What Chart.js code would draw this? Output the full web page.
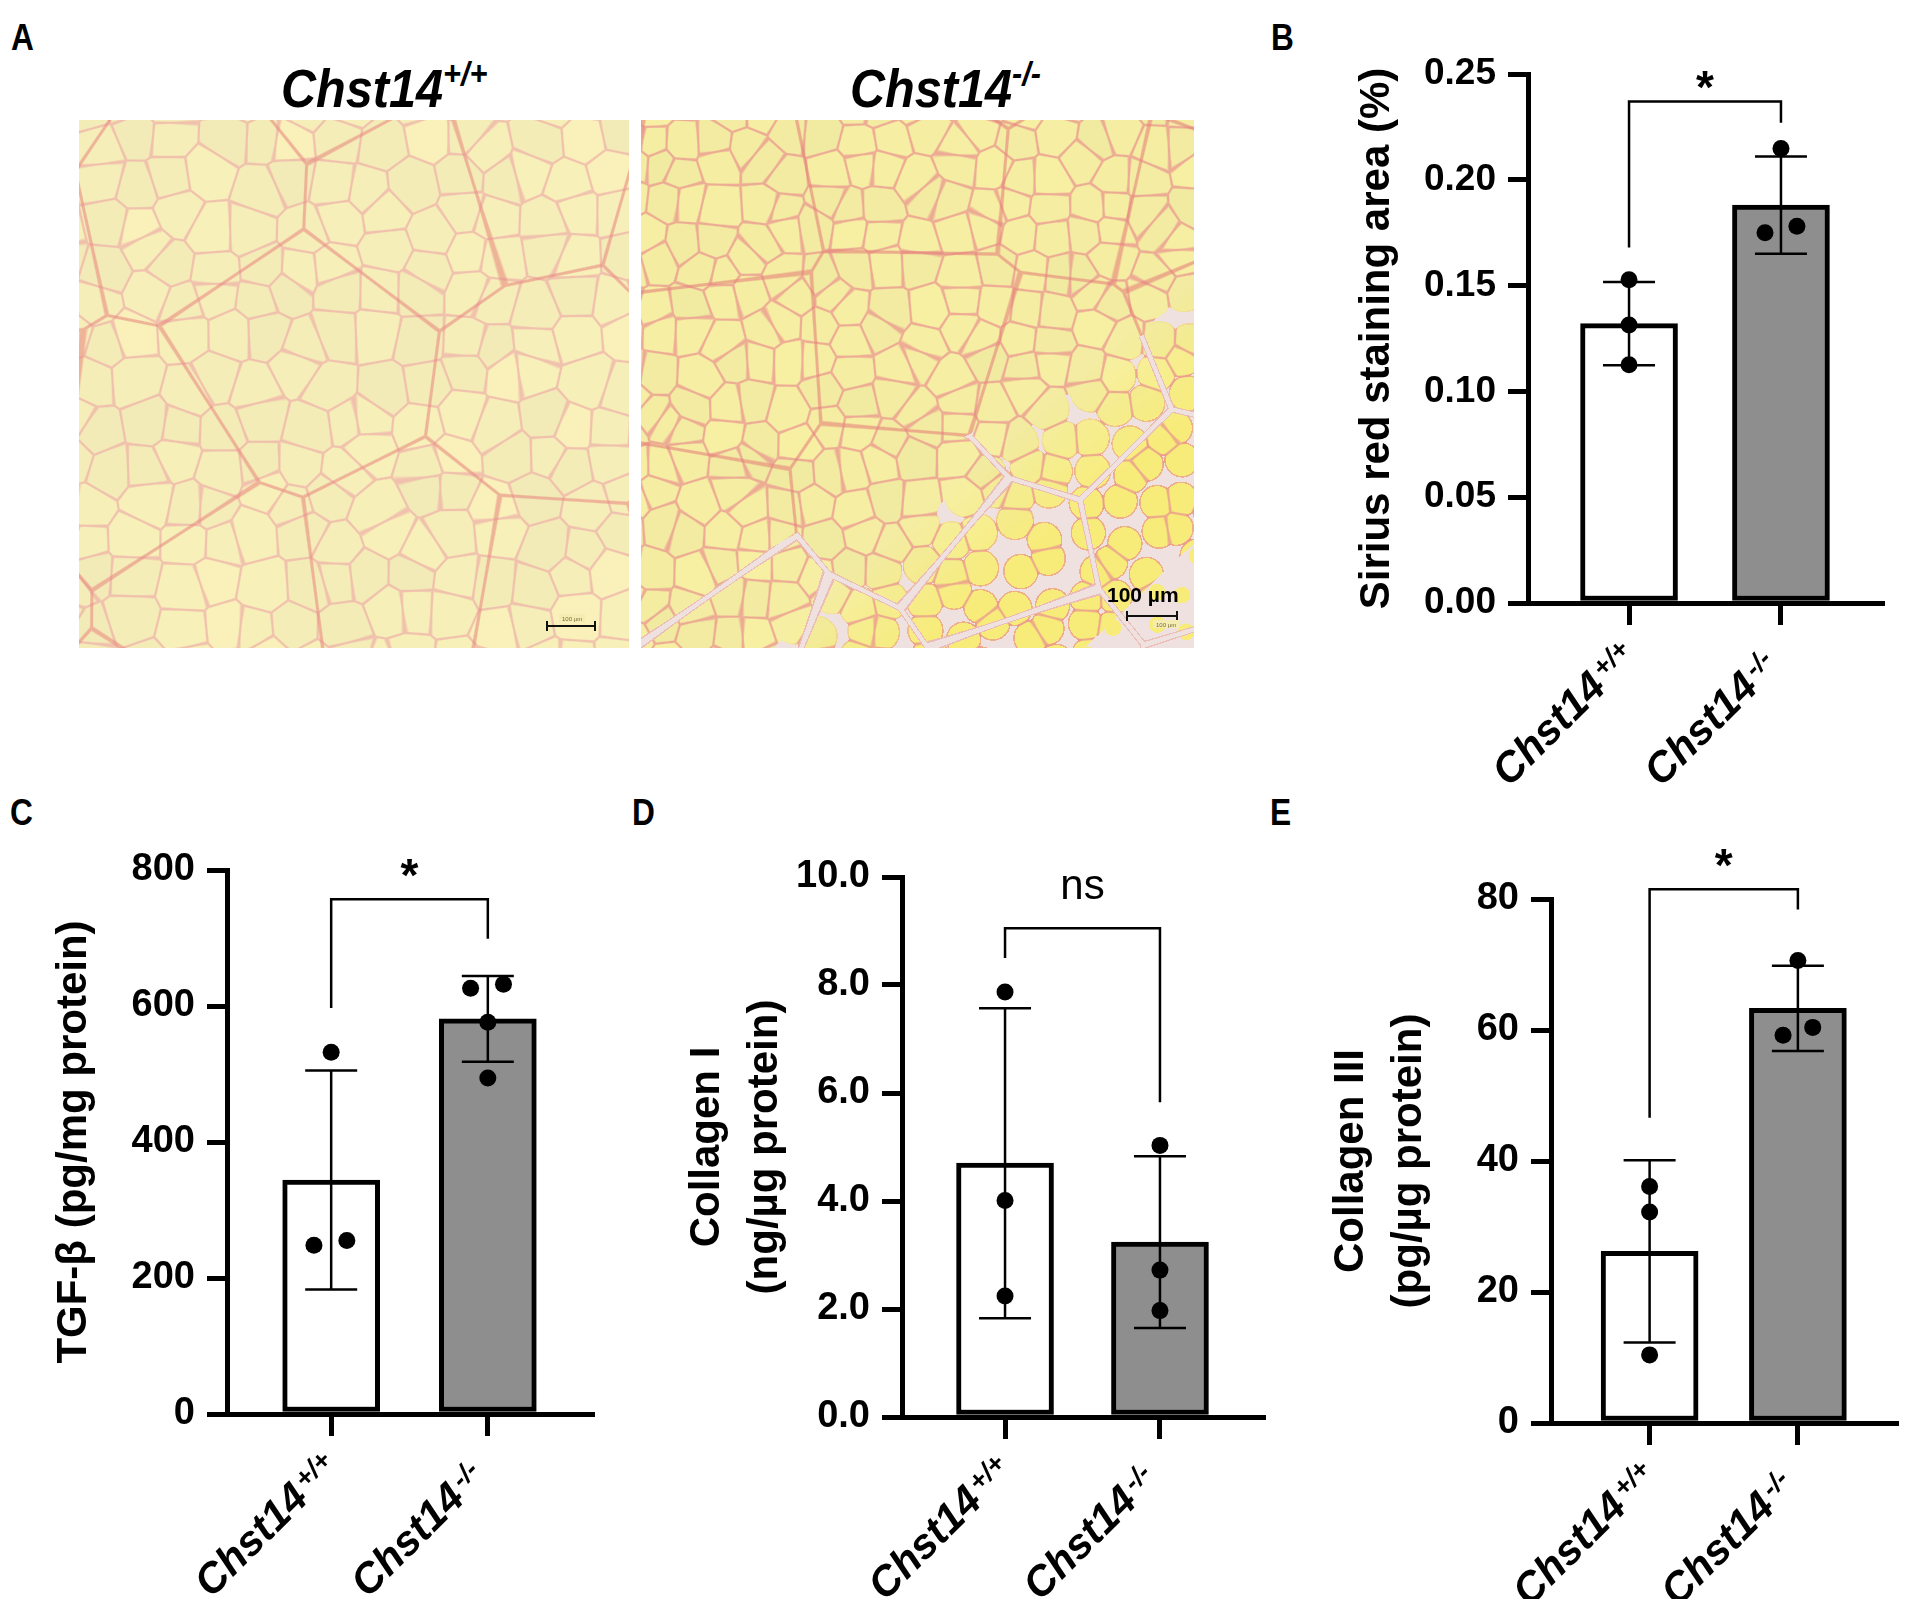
<!DOCTYPE html>
<html>
<head>
<meta charset="utf-8">
<script src="https://cdn.jsdelivr.net/npm/chart.js@4.4.0/dist/chart.umd.min.js"></script>
<style>
  html, body { margin: 0; padding: 0; background: #fff; }
  body { width: 1905px; height: 1599px; position: relative; overflow: hidden;
         font-family: "Liberation Sans", Arial, sans-serif; color: #000; }
  .abs { position: absolute; }
  .letter { font-weight: bold; font-size: 36px; line-height: 36px; transform: scaleX(0.88); transform-origin: left top; }
  .gtitle { font-weight: bold; font-style: italic; font-size: 54px; line-height: 54px; white-space: nowrap;
            transform: scaleX(0.9); transform-origin: left top; }
  .gtitle span { font-size: 34px; position: relative; top: -22px; }
  .scale { font-weight: bold; font-size: 21px; line-height: 21px; white-space: nowrap; }
</style>
</head>
<body>

<div class="abs letter" style="left:11px;top:20px">A</div>
<div class="abs letter" style="left:1271px;top:20px">B</div>
<div class="abs letter" style="left:10px;top:795px">C</div>
<div class="abs letter" style="left:632px;top:795px">D</div>
<div class="abs letter" style="left:1270px;top:795px">E</div>

<div class="abs gtitle" style="left:281px;top:61px">Chst14<span>+/+</span></div>
<div class="abs gtitle" style="left:850px;top:61px">Chst14<span>-/-</span></div>

<canvas id="tissueWT" class="abs" width="550" height="528" style="left:79px;top:120px"></canvas>
<canvas id="tissueKO" class="abs" width="553" height="528" style="left:641px;top:120px"></canvas>
<div class="abs scale" style="left:1107px;top:584px">100 µm</div>

<canvas id="chartB" class="abs" width="553" height="800" style="left:1352px;top:0px"></canvas>
<canvas id="chartC" class="abs" width="591" height="799" style="left:49px;top:800px"></canvas>
<canvas id="chartD" class="abs" width="612" height="799" style="left:678px;top:800px"></canvas>
<canvas id="chartE" class="abs" width="583" height="799" style="left:1322px;top:800px"></canvas>

<script>
// Figure: Chst14+/+ vs Chst14-/- muscle fibrosis read-outs

const groupBase = 'Chst14';
const groupSup = ['+/+', '-/-'];

// B - Sirius red staining area (%)
const siriusTicks = [0, 0.05, 0.10, 0.15, 0.20, 0.25];
const siriusMean = [0.132, 0.188];
const siriusSD = [0.0197, 0.0230];
const siriusWT = [0.1528, 0.1314, 0.1126];
const siriusKO = [0.2148, 0.1750, 0.1780];
const siriusWTPos = [0, 0, 0];
const siriusKOPos = [0, -0.105, 0.105];
const siriusBracket = [0.168, 0.237, 0.227];

// C - TGF-beta (pg/mg protein)
const tgfTicks = [0, 200, 400, 600, 800];
const tgfMean = [344, 581];
const tgfSD = [161, 63];
const tgfWT = [532, 248, 255];
const tgfKO = [626, 632, 576, 494];
const tgfWTPos = [0, -0.11, 0.1];
const tgfKOPos = [-0.11, 0.1, 0, 0];
const tgfBracket = [597, 757, 699];

// D - Collagen I (ng/ug protein)
const col1Ticks = [0, 2, 4, 6, 8, 10];
const col1Mean = [4.70, 3.24];
const col1SD = [2.87, 1.59];
const col1WT = [7.87, 4.01, 2.24];
const col1KO = [5.03, 2.72, 1.97];
const col1WTPos = [0, 0, 0];
const col1KOPos = [0, 0, 0];
const col1Bracket = [8.5, 9.05, 5.83];

// E - Collagen III (pg/ug protein)
const col3Ticks = [0, 20, 40, 60, 80];
const col3Mean = [26.2, 63.3];
const col3SD = [13.9, 6.5];
const col3WT = [36.1, 32.2, 10.4];
const col3KO = [70.6, 59.2, 60.4];
const col3WTPos = [0, 0, 0];
const col3KOPos = [0, -0.1, 0.1];
const col3Bracket = [46.6, 81.5, 78.4];

const FONT = '"Liberation Sans", Arial, sans-serif';

// ---------- panel A: stained sections (decorative texture) ----------
function hash2(i, j, k) {
  const h = Math.sin(i * 127.1 + j * 311.7 + k * 74.7) * 43758.5453;
  return h - Math.floor(h);
}
let nd1 = 0, nd2 = 0, nid = 0;
function nearest(x, y, s, k) {
  const gx = Math.floor(x / s), gy = Math.floor(y / s);
  nd1 = 1e9; nd2 = 1e9; nid = 0;
  for (let a = -1; a <= 1; a++) {
    for (let b = -1; b <= 1; b++) {
      const cx = gx + a, cy = gy + b;
      const px = (cx + 0.15 + 0.7 * hash2(cx, cy, k)) * s;
      const py = (cy + 0.15 + 0.7 * hash2(cy, cx, k + 3)) * s;
      const d = Math.hypot(x - px, y - py);
      if (d < nd1) { nd2 = nd1; nd1 = d; nid = cx * 7919 + cy; }
      else if (d < nd2) nd2 = d;
    }
  }
}
function mix(c1, c2, t) {
  return [c1[0] + (c2[0] - c1[0]) * t, c1[1] + (c2[1] - c1[1]) * t, c1[2] + (c2[2] - c1[2]) * t];
}
function edgeT(e, w) {
  return e < w ? 1 : (e < w + 1.2 ? 1 - (e - w) / 1.2 : 0);
}
function drawTissue(id, o) {
  const cv = document.getElementById(id);
  const ctx = cv.getContext('2d');
  const w = cv.width, h = cv.height;
  const img = ctx.createImageData(w, h);
  for (let y = 0; y < h; y++) {
    for (let x = 0; x < w; x++) {
      nearest(x, y, o.big, o.seed + 10);
      const eBig = (nd2 - nd1) / 2;
      nearest(x, y, o.cell, o.seed);
      const e = (nd2 - nd1) / 2;
      const d1 = nd1;
      const v = (hash2(nid, 1, o.seed) - 0.5) * 6;
      let c = [o.base[0] + v, o.base[1] + v, o.base[2] + v * 0.5];
      let loose = 0;
      if (o.loose) loose = Math.min(1, Math.max(0, ((x / w) * 0.9 + (y / h) - 1.2) / 0.25));
      if (loose > 0) c = mix(c, o.bright, loose);
      c = mix(c, o.edge, edgeT(e, 0.5) * 0.75);
      c = mix(c, o.bigEdge, edgeT(eBig, 0.9) * 0.6);
      if (o.loose) {
        const r = o.cell * (0.66 - 0.12 * loose);
        if (loose > 0.05 && d1 > r) c = o.gap;
        else if (loose > 0.05 && d1 > r - 1.5) c = mix(c, o.edge, 0.7 * loose);
        if (x / w + y / h > 1.8 && d1 > o.cell * 0.25) c = o.gap;
        const band = (x / w) * 0.6 + (y / h);
        if (band > 0.95 && eBig < 3) c = mix(o.gap, o.edge, eBig > 2 ? 0.5 : 0);
      }
      const p = (y * w + x) * 4;
      img.data[p] = c[0]; img.data[p + 1] = c[1]; img.data[p + 2] = c[2]; img.data[p + 3] = 255;
    }
  }
  ctx.putImageData(img, 0, 0);
  // scale bar
  ctx.strokeStyle = '#111';
  ctx.lineWidth = 2;
  const [sx0, sx1, sy] = o.bar;
  ctx.beginPath();
  ctx.moveTo(sx0, sy); ctx.lineTo(sx1, sy);
  ctx.moveTo(sx0, sy - 5); ctx.lineTo(sx0, sy + 5);
  ctx.moveTo(sx1, sy - 5); ctx.lineTo(sx1, sy + 5);
  ctx.stroke();
  ctx.fillStyle = '#f4ecb0';
  ctx.fillRect(o.tag[0], o.tag[1], 26, 8);
  ctx.fillStyle = '#7a6a40';
  ctx.font = '6px ' + FONT;
  ctx.fillText('100 µm', o.tag[0] + 3, o.tag[1] + 7);
}

drawTissue('tissueWT', {
  seed: 1, cell: 40, big: 190,
  base: [246, 238, 184], edge: [238, 178, 168], bigEdge: [232, 140, 130],
  bar: [468, 516, 506], tag: [480, 494]
});
drawTissue('tissueKO', {
  seed: 5, cell: 33, big: 160, loose: true,
  base: [244, 237, 162], edge: [234, 150, 142], bigEdge: [230, 130, 122],
  bright: [247, 236, 122], gap: [238, 225, 223],
  bar: [486, 536, 496], tag: [512, 500]
});

// ---------- panels B-E ----------
function statsPlugin(p) {
  return {
    id: 'stats',
    afterDatasetsDraw(chart) {
      const ctx = chart.ctx, xs = chart.scales.x, ys = chart.scales.y;
      ctx.save();
      ctx.strokeStyle = '#000';
      ctx.lineWidth = 2.5;
      // mean +/- SD
      p.mean.forEach((m, i) => {
        const x = xs.getPixelForValue(i);
        const yt = ys.getPixelForValue(m + p.sd[i]);
        const yb = ys.getPixelForValue(m - p.sd[i]);
        ctx.beginPath();
        ctx.moveTo(x, yt); ctx.lineTo(x, yb);
        ctx.moveTo(x - 26, yt); ctx.lineTo(x + 26, yt);
        ctx.moveTo(x - 26, yb); ctx.lineTo(x + 26, yb);
        ctx.stroke();
      });
      // significance bracket
      const x0 = xs.getPixelForValue(0), x1 = xs.getPixelForValue(1);
      const yl = ys.getPixelForValue(p.bracket[0]);
      const yt = ys.getPixelForValue(p.bracket[1]);
      const yr = ys.getPixelForValue(p.bracket[2]);
      ctx.beginPath();
      ctx.moveTo(x0, yl); ctx.lineTo(x0, yt); ctx.lineTo(x1, yt); ctx.lineTo(x1, yr);
      ctx.stroke();
      ctx.fillStyle = '#000';
      ctx.textAlign = 'center';
      ctx.textBaseline = 'alphabetic';
      if (p.sig === '*') {
        ctx.font = 'bold 46px ' + FONT;
        ctx.fillText('*', (x0 + x1) / 2, yt - p.sigGap + 26);
      } else {
        ctx.font = '42px ' + FONT;
        ctx.fillText(p.sig, (x0 + x1) / 2, yt - p.sigGap + 11);
      }
      // rotated group labels
      const yb = chart.chartArea.bottom;
      [0, 1].forEach(i => {
        const x = xs.getPixelForValue(i);
        ctx.save();
        ctx.translate(x - 21, yb + 86);
        ctx.rotate(-Math.PI / 4);
        ctx.font = 'italic bold 42px ' + FONT;
        ctx.textAlign = 'right';
        ctx.fillText(groupBase, 0, 0);
        ctx.font = 'italic bold 27px ' + FONT;
        ctx.textAlign = 'left';
        ctx.fillText(groupSup[i], 4, -11);
        ctx.restore();
      });
      ctx.restore();
    }
  };
}

function makeChart(id, p) {
  const pts = [];
  p.wt.forEach((v, i) => pts.push({ x: p.wtPos[i], y: v }));
  p.ko.forEach((v, i) => pts.push({ x: 1 + p.koPos[i], y: v }));
  return new Chart(document.getElementById(id), {
    type: 'bar',
    data: {
      datasets: [
        {
          type: 'scatter',
          data: pts,
          order: 0,
          pointRadius: 8.5,
          pointBackgroundColor: '#000',
          pointBorderWidth: 0
        },
        {
          type: 'bar',
          data: p.mean.map((m, i) => ({ x: i, y: m })),
          order: 1,
          backgroundColor: ['#ffffff', '#8e8e8e'],
          borderColor: '#000',
          borderWidth: 5,
          borderSkipped: false,
          barThickness: 97
        }
      ]
    },
    options: {
      responsive: false,
      devicePixelRatio: 1,
      animation: false,
      layout: { padding: { top: p.padTop, right: p.padRight, bottom: 0, left: 0 } },
      plugins: { legend: { display: false }, tooltip: { enabled: false } },
      scales: {
        x: {
          type: 'linear',
          offset: false,
          min: -0.665,
          max: 1.665,
          afterBuildTicks: s => { s.ticks = [{ value: 0 }, { value: 1 }]; },
          afterFit: s => { s.height = p.xHeight; },
          ticks: { display: true, callback: () => '' },
          grid: { display: true, offset: false, drawOnChartArea: false, drawTicks: true, tickLength: 22,
                  lineWidth: 5, tickWidth: 5, tickColor: '#000', color: '#000' },
          border: { display: true, width: 5, color: '#000' }
        },
        y: {
          min: 0,
          max: p.ticks[p.ticks.length - 1],
          afterBuildTicks: s => { s.ticks = p.ticks.map(v => ({ value: v })); },
          afterFit: s => { s.width = p.yWidth; },
          ticks: {
            padding: 12,
            color: '#000',
            font: { family: FONT, size: p.tickSize, weight: 'bold' },
            callback: v => v.toFixed(p.decimals)
          },
          grid: { display: true, drawOnChartArea: false, drawTicks: true, tickLength: 20,
                  lineWidth: 5, tickWidth: 5, tickColor: '#000', color: '#000' },
          border: { display: true, width: 5, color: '#000' },
          title: {
            display: true,
            text: p.title,
            color: '#000',
            padding: 0,
            font: { family: FONT, size: 42, weight: 'bold', lineHeight: p.titleLH }
          }
        }
      }
    },
    plugins: [statsPlugin(p)]
  });
}

makeChart('chartB', {
  ticks: siriusTicks, decimals: 2, tickSize: 37,
  mean: siriusMean, sd: siriusSD, wt: siriusWT, ko: siriusKO,
  wtPos: siriusWTPos, koPos: siriusKOPos, bracket: siriusBracket,
  sig: '*', sigGap: 25,
  title: 'Sirius red staining area (%)', titleLH: 1.2,
  yWidth: 176, xHeight: 197, padTop: 74, padRight: 23
});

makeChart('chartC', {
  ticks: tgfTicks, decimals: 0, tickSize: 38,
  mean: tgfMean, sd: tgfSD, wt: tgfWT, ko: tgfKO,
  wtPos: tgfWTPos, koPos: tgfKOPos, bracket: tgfBracket,
  sig: '*', sigGap: 34,
  title: 'TGF-β (pg/mg protein)', titleLH: 1.2,
  yWidth: 178, xHeight: 185, padTop: 70, padRight: 48
});

makeChart('chartD', {
  ticks: col1Ticks, decimals: 1, tickSize: 38,
  mean: col1Mean, sd: col1SD, wt: col1WT, ko: col1KO,
  wtPos: col1WTPos, koPos: col1KOPos, bracket: col1Bracket,
  sig: 'ns', sigGap: 40,
  title: ['Collagen I', '(ng/µg protein)'], titleLH: 1.38,
  yWidth: 224, xHeight: 182, padTop: 77, padRight: 27
});

makeChart('chartE', {
  ticks: col3Ticks, decimals: 0, tickSize: 38,
  mean: col3Mean, sd: col3SD, wt: col3WT, ko: col3KO,
  wtPos: col3WTPos, koPos: col3KOPos, bracket: col3Bracket,
  sig: '*', sigGap: 34,
  title: ['Collagen III', '(pg/µg protein)'], titleLH: 1.38,
  yWidth: 229, xHeight: 176, padTop: 99, padRight: 3
});
</script>
</body>
</html>
